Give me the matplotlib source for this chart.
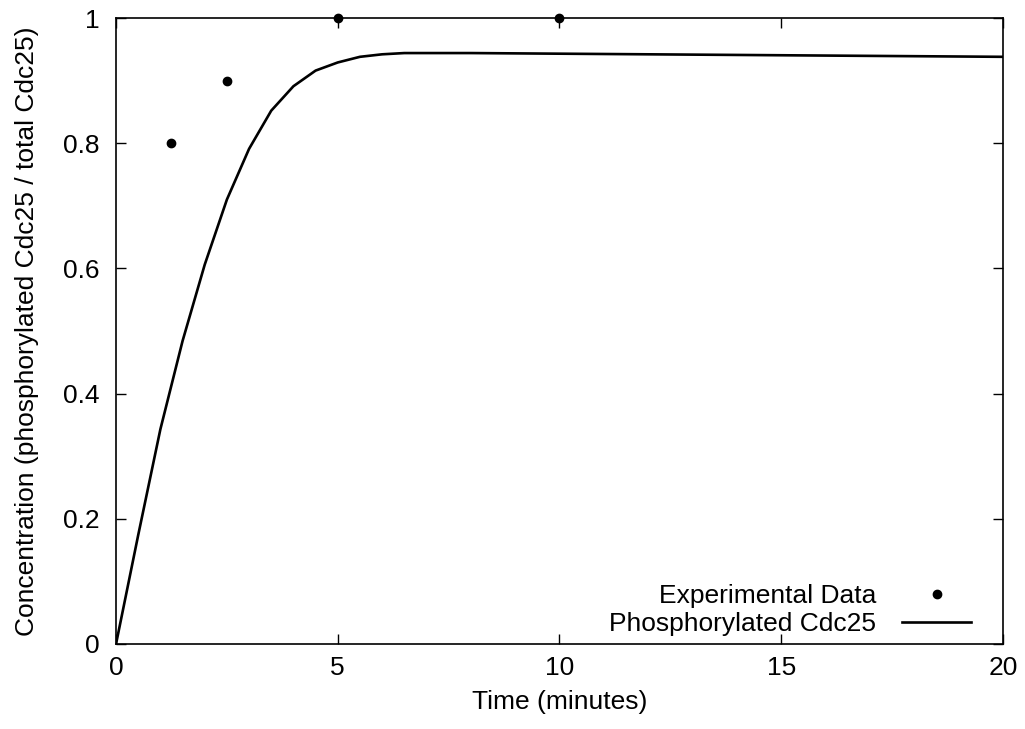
import matplotlib.pyplot as plt
import numpy as np

plt.rcParams['font.family'] = ['Liberation Sans', 'DejaVu Sans']
plt.rcParams['font.size'] = 19

# experimental points
exp_t = [1.25, 2.5, 5, 10]
exp_c = [0.8, 0.9, 1.0, 1.0]

# model curve
model_t = [0, 0.5, 1.0, 1.5, 2.0, 2.5, 3.0, 3.5, 4.0, 4.5, 5.0, 5.5, 6.0, 6.5, 7.0,
           8, 10, 12, 14, 16, 18, 20]
model_c = [0, 0.174, 0.343, 0.484, 0.606, 0.710, 0.791, 0.852, 0.891, 0.916, 0.929,
           0.938, 0.942, 0.944, 0.944, 0.944, 0.943, 0.942, 0.941, 0.940, 0.939, 0.938]

fig = plt.figure(figsize=(10.25, 7.29), dpi=100)
ax = fig.add_axes([0.1132, 0.1166, 0.8653, 0.8587])

ax.plot(exp_t, exp_c, 'o', color='black', markersize=6, label='Experimental Data',
        clip_on=False, zorder=3)
ax.plot(model_t, model_c, '-', color='black', linewidth=1.9, label='Phosphorylated Cdc25')

ax.set_xlim(0, 20)
ax.set_ylim(0, 1)
ax.set_xticks([0, 5, 10, 15, 20])
ax.set_yticks([0, 0.2, 0.4, 0.6, 0.8, 1])
ax.set_yticklabels(['0', '0.2', '0.4', '0.6', '0.8', '1'])
ax.tick_params(direction='in', top=True, right=True, length=7, width=1)
ax.tick_params(axis='y', pad=12)
ax.tick_params(axis='x', pad=9)
for s in ax.spines.values():
    s.set_linewidth(1.2)

ax.set_xlabel('Time (minutes)', labelpad=7)
ax.set_ylabel('Concentration (phosphorylated Cdc25 / total Cdc25)', labelpad=17)

ax.legend(loc='lower right', bbox_to_anchor=(0.973, 0.0), frameon=False,
          markerfirst=False, handlelength=2.6, borderaxespad=0, borderpad=0.3,
          labelspacing=0.15, handletextpad=1.0)

fig.savefig('out.png', dpi=100)
